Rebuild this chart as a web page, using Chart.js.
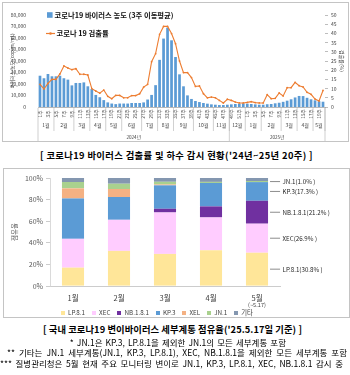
<!DOCTYPE html>
<html><head><meta charset="utf-8">
<script src="https://cdn.jsdelivr.net/npm/chart.js@4.4.1/dist/chart.umd.min.js"></script>
<style>
html,body{margin:0;padding:0;background:#fff;}
body{width:350px;height:375px;position:relative;overflow:hidden;font-family:"Noto Sans CJK KR","Noto Sans",sans-serif;color:#000;}
.box{position:absolute;border:1px solid #c4c4c4;box-sizing:border-box;}
#b1{left:2px;top:2px;width:347px;height:140px;}
#b2{left:3px;top:168px;width:347px;height:150px;}
#w1{position:absolute;left:0;top:0;width:350px;height:142px;}
#w2{position:absolute;left:3px;top:168px;width:346px;height:149px;}
.cap{position:absolute;font-weight:bold;font-size:9.3px;line-height:11px;white-space:nowrap;}
.note{position:absolute;font-size:8.5px;line-height:10px;white-space:nowrap;}
#lg2{position:absolute;left:61px;top:309px;height:8px;display:flex;align-items:center;font-size:6.3px;line-height:8px;color:#404040;white-space:nowrap;}
#lg2 span.m{display:inline-block;width:4px;height:4px;margin-right:3px;}
#lg2 span.t{margin-right:7px;}
</style></head>
<body>
<div class="box" id="b1"></div>
<div class="box" id="b2"></div>
<div id="w1"><canvas id="c1" width="350" height="142"></canvas></div>
<div id="w2"><canvas id="c2" width="346" height="149"></canvas></div>
<div class="cap" data-l="40" data-w="273" data-mode="letter" style="top:149.5px">[ 코로나19 바이러스 검출률 및 하수 감시 현황('24년~25년 20주) ]</div>
<div class="cap" data-l="43" data-w="259" data-mode="letter" style="top:323.5px">[ 국내 코로나19 변이바이러스 세부계통 점유율('25.5.17일 기준) ]</div>
<div class="note" data-r="286" data-ws="1.2" style="top:336.5px">* JN.1은 KP.3, LP.8.1을 제외한 JN.1의 모든 세부계통 포함</div>
<div class="note" data-l="7" data-w="340" data-mode="word" style="top:347px">** 기타는 JN.1 세부계통(JN.1, KP.3, LP.8.1), XEC, NB.1.8.1을 제외한 모든 세부계통 포함</div>
<div class="note" data-l="0" data-w="343" data-mode="word" style="top:358px">*** 질병관리청은 5월 현재 주요 모니터링 변이로 JN.1, KP.3, LP.8.1, XEC, NB.1.8.1 감시 중</div>
<div id="lg2"></div>
<script>
// ---------- Chart 1 data ----------
const weekNums2024 = [];
for (let w = 1; w <= 52; w++) weekNums2024.push(w);
const weekNums2025 = [];
for (let w = 1; w <= 20; w++) weekNums2025.push(w);
const weekLabels = weekNums2024.concat(weekNums2025).map(w => w + '주');

const virusConc = [
  27200, 25000, 28700, 26700, 26700, 27200, 25000, 23800, 18800, 20900,
  20900, 21400, 18000, 15600, 10500, 8500, 6000, 4000, 3000, 2500,
  3000, 3000, 3000, 3500, 3500, 3500, 4000, 6500, 10500, 19000,
  41000, 59500, 69000, 58000, 43500, 28400, 18000, 10100, 7000, 5200,
  4300, 3500, 2900, 2300, 2000, 1700, 1700, 2000, 2300, 2600,
  2900, 3200, 2900, 2600, 2300, 2000, 2000, 2400, 2600, 3200,
  3700, 4500, 5500, 6700, 8300, 9600, 9500, 8000, 6700, 5800,
  5000, 4600
];
const detectRate = [
  12.3, 9.8, 12.8, 15, 15, 18, 22.3, 21.2, 20.3, 20.8,
  17.8, 17.8, 17.4, 10, 8.7, 7.5, 9.2, 5.8, 4.5, 6.3,
  6.3, 5, 5, 6.2, 6.2, 7.2, 10.8, 12.3, 24.6, 29,
  39.5, 43.8, 43.8, 39.9, 34.4, 25, 18.7, 18.7, 16, 11.2,
  11.4, 7.2, 5, 5.4, 5, 3.6, 2.2, 4.2, 3.6, 2.7,
  2.2, 2.2, 2.5, 2.9, 2.4, 2.2, 2.2, 6.7, 4.5, 4.7,
  7.6, 6, 10.5, 10.5, 13.4, 11.6, 10.9, 8, 6.9, 4.3,
  3.3, 9
];
const monthLabels = ['1월','2월','3월','4월','5월','6월','7월','8월','9월','10월','11월','12월','1월','2월','3월','4월','5월'];
const monthSpans  = [4,5,4,4,4,5,4,4,5,5,4,4,4,5,4,4,3];
const yearLabels = ['2024년','2025년'];
const yearSpans  = [48,24];
const barName  = '코로나19 바이러스 농도 (3주 이동평균)';
const lineName = '코로나 19 검출률';

// ---------- Chart 2 data ----------
const months2 = ['1월','2월','3월','4월','5월'];
const monthNotes2 = ['','','','','(~5.17)'];
const variants = ['LP.8.1','XEC','NB.1.8.1','KP.3','XEL','JN.1','기타'];
const shareLP81 = [17.0, 32.5, 29.7, 33.1, 30.8];
const shareXEC  = [26.7, 28.8, 38.4, 30.4, 26.9];
const shareNB181= [0, 0, 3.4, 10.2, 21.2];
const shareKP3  = [37.4, 21.1, 21.7, 21.7, 17.3];
const shareXEL  = [9.3, 7.4, 0.8, 0, 0];
const shareJN1  = [5.9, 4.9, 2.5, 1.0, 1.0];
const shareEtc  = [3.7, 5.3, 3.5, 3.6, 2.8];
const variantShares = [shareLP81, shareXEC, shareNB181, shareKP3, shareXEL, shareJN1, shareEtc];
const variantColors = ['#FFE699','#FFCCFF','#7030A0','#5B9BD5','#F4B183','#A9D18E','#8497B0'];

const KR = '"Noto Sans CJK KR","Noto Sans",sans-serif';

// ---------- Chart 1 ----------
const axisDeco = {
  id: 'axisDeco',
  afterDraw(chart) {
    const ctx = chart.ctx, xs = chart.scales.x, area = chart.chartArea;
    const step = (area.right - area.left) / weekLabels.length;
    ctx.save();
    ctx.fillStyle = '#404040';
    ctx.font = '4.6px ' + KR;
    ctx.textAlign = 'center';
    ctx.textBaseline = 'middle';
    for (let i = 0; i < weekLabels.length; i += 2) {
      const x = xs.getPixelForValue(i);
      ctx.save();
      ctx.translate(x, 114);
      ctx.rotate(-Math.PI / 2);
      ctx.fillText(weekLabels[i], 0, 0);
      ctx.restore();
    }
    ctx.strokeStyle = '#b0b0b0';
    ctx.lineWidth = 0.6;
    ctx.font = '5px ' + KR;
    let cum = 0;
    for (let m = 0; m < monthLabels.length; m++) {
      const x0 = area.left + step * cum;
      const x1 = area.left + step * (cum + monthSpans[m]);
      ctx.beginPath(); ctx.moveTo(x1, 108); ctx.lineTo(x1, 131); ctx.stroke();
      ctx.fillText(monthLabels[m], (x0 + x1) / 2, 125.5);
      cum += monthSpans[m];
    }
    ctx.font = '4.6px ' + KR;
    cum = 0;
    ctx.beginPath(); ctx.moveTo(area.left, 108); ctx.lineTo(area.left, 141); ctx.stroke();
    for (let y = 0; y < yearLabels.length; y++) {
      const x0 = area.left + step * cum;
      const x1 = area.left + step * (cum + yearSpans[y]);
      ctx.beginPath(); ctx.moveTo(x1, 108); ctx.lineTo(x1, 141); ctx.stroke();
      ctx.fillText(yearLabels[y], (x0 + x1) / 2, 137.5);
      cum += yearSpans[y];
    }
    // legend (inside plot, top-left)
    const dsBar = chart.data.datasets.find(d => d.type === 'bar');
    const dsLine = chart.data.datasets.find(d => d.type === 'line');
    ctx.font = 'bold 7.3px ' + KR;
    ctx.textAlign = 'left';
    ctx.fillStyle = dsBar.backgroundColor;
    ctx.fillRect(47, 12.2, 5.6, 5.6);
    ctx.fillStyle = '#111';
    ctx.fillText(dsBar.label, 54.5, 15.2);
    ctx.strokeStyle = dsLine.borderColor;
    ctx.lineWidth = 1.2;
    ctx.beginPath(); ctx.moveTo(46, 33.5); ctx.lineTo(55, 33.5); ctx.stroke();
    ctx.fillStyle = dsLine.borderColor;
    ctx.beginPath(); ctx.arc(50.5, 33.5, 1.3, 0, Math.PI * 2); ctx.fill();
    ctx.fillStyle = '#111';
    ctx.fillText(dsLine.label, 56.5, 33.7);
    ctx.restore();
  }
};

new Chart(document.getElementById('c1'), {
  data: {
    labels: weekLabels,
    datasets: [
      { type: 'line', label: lineName, data: detectRate, yAxisID: 'y2', order: 0,
        borderColor: '#ED7D31', backgroundColor: '#ED7D31', borderWidth: 1.1,
        pointRadius: 0.9, pointBackgroundColor: '#ED7D31', pointBorderWidth: 0, tension: 0 },
      { type: 'bar', label: barName, data: virusConc, yAxisID: 'y', order: 1,
        backgroundColor: '#5B9BD5', barPercentage: 0.68, categoryPercentage: 1 }
    ]
  },
  options: {
    responsive: false, animation: false, events: [],
    layout: { padding: { top: 15, left: 0, right: 0, bottom: 0 } },
    plugins: { legend: { display: false }, tooltip: { enabled: false } },
    scales: {
      x: { offset: true, ticks: { display: false }, grid: { display: false },
           border: { display: true, color: '#a6a6a6', width: 0.8 },
           afterFit(s) { s.height = 35; } },
      y: { position: 'left', min: 0, max: 80000,
           ticks: { stepSize: 10000, font: { size: 5, family: KR }, color: '#404040', padding: 4,
                    callback: v => v.toLocaleString('en-US') },
           grid: { display: false }, border: { display: false },
           title: { display: true, text: '바이러스 농도 (copies/mL)', font: { size: 4.8, family: KR }, color: '#404040', padding: { top: 9, bottom: 0 } },
           afterFit(s) { s.width = 38; } },
      y2: { position: 'right', min: 0, max: 50,
           ticks: { stepSize: 5, font: { size: 5, family: KR }, color: '#404040', padding: 3 },
           grid: { display: true, drawOnChartArea: false, tickLength: 3, color: '#909090', lineWidth: 0.6 },
           border: { display: false },
           title: { display: true, text: '검출률(%)', font: { size: 5, family: KR }, color: '#404040', padding: { top: 5, bottom: 0 } },
           afterFit(s) { s.width = 25; } }
    }
  },
  plugins: [axisDeco]
});

// ---------- Chart 2 ----------
const annot2 = {
  id: 'annot2',
  afterDatasetsDraw(chart) {
    const ctx = chart.ctx;
    const last = months2.length - 1;
    ctx.save();
    ctx.font = '6.2px ' + KR;
    ctx.fillStyle = '#262626';
    ctx.strokeStyle = '#7f7f7f';
    ctx.lineWidth = 0.9;
    ctx.textAlign = 'left';
    ctx.textBaseline = 'middle';
    chart.data.datasets.forEach((ds, d) => {
      const v = ds.data[last];
      if (!v || ds.label === '기타') return;
      const el = chart.getDatasetMeta(d).data[last];
      const yc = (el.y + el.base) / 2;
      const xr = el.x + el.width / 2;
      ctx.beginPath(); ctx.moveTo(xr + 2, yc); ctx.lineTo(xr + 12, yc); ctx.stroke();
      ctx.fillText(ds.label + '(' + v.toFixed(1) + '% )', xr + 14.5, yc);
    });
    const xs = chart.scales.x;
    ctx.font = '5.6px ' + KR;
    ctx.textAlign = 'center';
    ctx.fillStyle = '#404040';
    monthNotes2.forEach((n, i) => { if (n) ctx.fillText(n, xs.getPixelForValue(i), 136.5); });
    ctx.restore();
  }
};

new Chart(document.getElementById('c2'), {
  type: 'bar',
  data: {
    labels: months2,
    datasets: variants.map((name, k) => ({
      label: name, data: variantShares[k], backgroundColor: variantColors[k],
      borderWidth: 0, barPercentage: 0.48, categoryPercentage: 1
    }))
  },
  options: {
    responsive: false, animation: false, events: [],
    layout: { padding: { top: 10, left: 0, right: 69, bottom: 0 } },
    plugins: { legend: { display: false }, tooltip: { enabled: false } },
    scales: {
      x: { stacked: true, grid: { display: false },
           border: { display: true, color: '#bfbfbf', width: 0.8 },
           ticks: { font: { size: 7.5, family: KR }, color: '#404040', padding: 0 },
           afterFit(s) { s.height = 31; } },
      y: { stacked: true, min: 0, max: 100,
           ticks: { stepSize: 20, font: { size: 7, family: KR }, color: '#595959', padding: 3, callback: v => v + '%' },
           grid: { display: true, drawOnChartArea: false, tickLength: 4, color: '#bfbfbf', lineWidth: 0.8 },
           border: { display: true, color: '#d0d0d0', width: 0.8 },
           title: { display: true, text: '점유율', font: { size: 6.5, family: KR }, color: '#595959', padding: { top: 8, bottom: 0 } },
           afterFit(s) { s.width = 47; } }
    }
  },
  plugins: [annot2]
});

const lg = document.getElementById('lg2');
variants.forEach((name, k) => {
  const m = document.createElement('span'); m.className = 'm'; m.style.background = variantColors[k];
  const t = document.createElement('span'); t.className = 't'; t.textContent = name;
  lg.appendChild(m); lg.appendChild(t);
});

// fit caption / note text to the reference extents
document.querySelectorAll('.cap, .note').forEach(el => {
  const txt = el.textContent;
  if (el.dataset.r) {
    el.style.wordSpacing = el.dataset.ws + 'px';
    const w = el.getBoundingClientRect().width;
    el.style.left = (+el.dataset.r - w).toFixed(1) + 'px';
    return;
  }
  const target = +el.dataset.w;
  el.style.left = el.dataset.l + 'px';
  const w = el.getBoundingClientRect().width;
  if (el.dataset.mode === 'word') {
    const spaces = (txt.match(/ /g) || []).length;
    el.style.wordSpacing = ((target - w) / spaces).toFixed(3) + 'px';
  } else {
    el.style.letterSpacing = ((target - w) / txt.length).toFixed(3) + 'px';
  }
});
</script>
</body></html>
